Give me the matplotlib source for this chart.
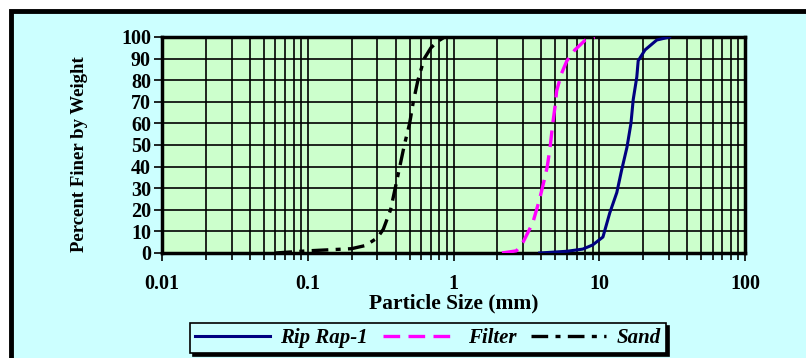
import matplotlib.pyplot as plt
from matplotlib.patches import Rectangle

# Gradation data (size in mm, percent finer)
riprap_size = [3.9, 6.0, 7.7, 9.0, 10.6, 11.8, 13.2, 14.2, 15.5, 16.5, 17.1, 18.1, 18.5, 20.6, 24.8, 30.4]
riprap_pct = [0, 0.8, 1.8, 3.7, 7.4, 18.5, 28, 38, 49, 60, 71, 81.5, 89, 94, 98.6, 100]

filter_size = [2.15, 2.7, 3.0, 3.5, 3.9, 4.2, 4.4, 4.6, 4.8, 5.0, 5.1, 5.5, 6.0, 6.8, 8.0, 9.3]
filter_pct = [0, 1, 5, 14, 25, 34, 40, 49, 60, 69, 75, 83, 89, 94, 98.5, 100]

sand_size = [0.06, 0.1, 0.2, 0.25, 0.3, 0.33, 0.37, 0.41, 0.46, 0.50, 0.53, 0.57, 0.63, 0.70, 0.78, 0.87, 1.0]
sand_pct = [0, 1, 2, 3.5, 7, 11, 20, 34, 50, 60, 70, 80, 90, 95, 98, 100, 100]

x_ticks = [0.01, 0.1, 1, 10, 100]
x_labels = ["0.01", "0.1", "1", "10", "100"]
y_ticks = list(range(0, 101, 10))

plt.rcParams['font.family'] = ['Liberation Serif', 'DejaVu Serif']
plt.rcParams['font.weight'] = 'bold'

fig = plt.figure(figsize=(8.06, 3.58), dpi=100, facecolor="white")

# outer chart frame (cropped at right and bottom like the original)
fig.patches.append(Rectangle((11 / 806, -0.2), 1.2, 1 - 11 / 358 + 0.2, transform=fig.transFigure,
                             facecolor="#CCFFFF", edgecolor="black", linewidth=3.5, zorder=-10))

ax = fig.add_axes([162 / 806, 1 - 253 / 358, (745 - 162) / 806, (253 - 37) / 358])
ax.set_facecolor("#CCFFCC")

ax.plot(riprap_size, riprap_pct, color="#000080", lw=2.2, label="Rip Rap-1", zorder=3)
ax.plot(filter_size, filter_pct, color="#FF00FF", lw=2.4, dashes=(5, 2.5), label="Filter", zorder=3)
ax.plot(sand_size, sand_pct, color="black", lw=2.4, dashes=(5, 2.2, 1.5, 2.2), label="Sand", zorder=3)

ax.set_xscale("log")
ax.set_xlim(0.01, 100)
ax.set_ylim(0, 100)
ax.set_xticks(x_ticks)
ax.set_xticklabels(x_labels)
ax.set_yticks(y_ticks)
ax.grid(True, which="both", axis="x", color="black", lw=1.2)
ax.grid(True, which="major", axis="y", color="black", lw=1.2)
ax.set_axisbelow(True)

ax.tick_params(axis="both", which="major", labelsize=14.5, length=6, width=1.2, direction="out", pad=9)
ax.tick_params(axis="y", pad=2)
ax.tick_params(axis="x", which="minor", length=5, width=1.2, direction="out")
for lab in ax.get_xticklabels() + ax.get_yticklabels():
    lab.set_fontweight("bold")
for s in ax.spines.values():
    s.set_linewidth(2.5)

ax.set_xlabel("Particle Size (mm)", fontsize=15.5, fontweight="bold", labelpad=0)
ax.set_ylabel("Percent Finer by Weight", fontsize=13.5, fontweight="bold")
ax.yaxis.set_label_coords(-0.127, 0.46)

leg = fig.legend(loc="center", bbox_to_anchor=(428 / 806, 1 - 338 / 358), ncol=3,
                 prop={"weight": "bold", "style": "italic", "size": 15},
                 fancybox=False, shadow={"color": "black", "alpha": 1}, framealpha=1,
                 facecolor="#CCFFFF", edgecolor="black", handlelength=3.6,
                 columnspacing=0.7, borderpad=0.25, handletextpad=0.5)
leg.get_frame().set_linewidth(1.2)

fig.savefig("out.png", dpi=100, facecolor="white")
